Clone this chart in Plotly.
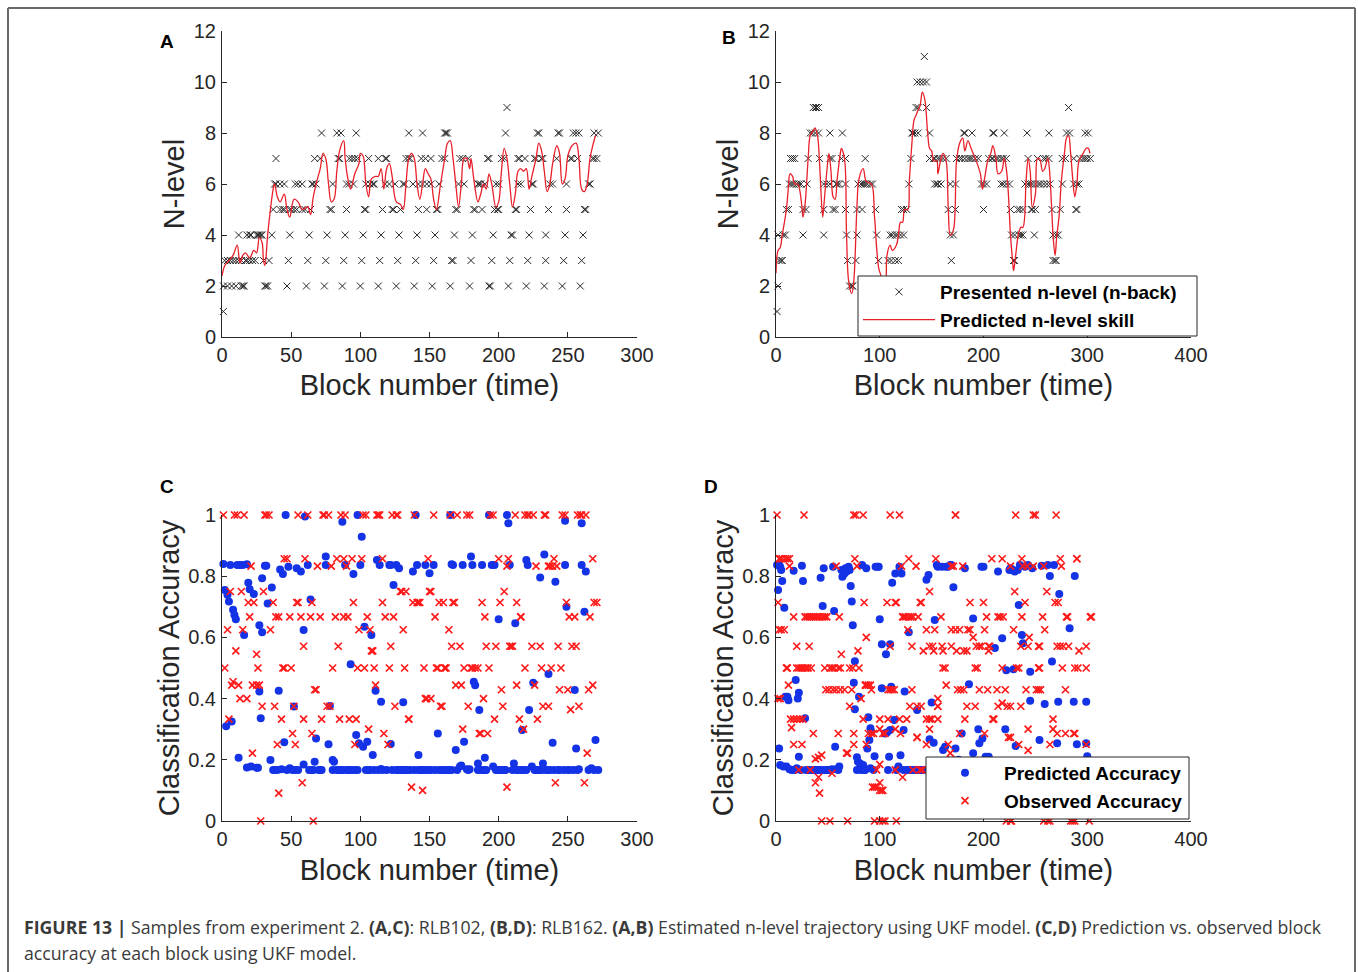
import plotly.graph_objects as go

W, H = 1358, 972
FONT = "Liberation Sans, Arial, sans-serif"
AX = "#262626"

# ---------------- Panel A (RLB102): presented n-level per block ----------------
a_level_1 = [1]
a_level_2 = [1, 4, 7, 10, 14, 15, 16, 31, 32, 33, 47, 61, 74, 87, 100, 113, 126, 139, 152, 165, 179,
             193, 194, 207, 220, 233, 246, 259]
a_level_3 = [2, 4, 6, 8, 10, 12, 14, 17, 18, 20, 22, 24, 30, 34, 48, 62, 75, 88, 101, 114, 127, 140,
             153, 166, 167, 180, 195, 208, 221, 234, 247, 260]
a_level_4 = [12, 18, 20, 21, 25, 26, 27, 28, 29, 36, 49, 63, 76, 89, 102, 115, 128, 141, 154, 168, 181,
             196, 209, 210, 222, 234, 248, 261]
a_level_5 = [37, 42, 44, 45, 49, 50, 52, 54, 58, 60, 64, 78, 79, 90, 103, 104, 116, 123, 124, 129, 142,
             148, 155, 156, 169, 170, 182, 183, 188, 197, 199, 200, 212, 213, 223, 236, 249, 262, 263]
a_level_6 = [38, 39, 42, 45, 53, 55, 58, 65, 66, 68, 80, 90, 92, 95, 104, 107, 109, 110, 118, 121, 125,
             131, 132, 138, 142, 145, 148, 151, 157, 171, 175, 185, 186, 187, 190, 198, 200, 214, 216,
             224, 225, 237, 239, 249, 265, 266]
a_level_7 = [39, 67, 71, 84, 85, 92, 94, 96, 98, 106, 113, 118, 119, 133, 135, 136, 144, 147, 151, 159,
             161, 172, 174, 178, 192, 193, 202, 204, 214, 215, 219, 226, 227, 231, 232, 242, 252, 253,
             257, 268, 269, 271]
a_level_8 = [72, 83, 86, 97, 135, 145, 161, 162, 163, 205, 228, 229, 243, 244, 254, 256, 258, 269, 272]
a_level_9 = [206]

# predicted n-level skill (UKF), panel A
a_skill_block = [0, 2, 5, 8, 11, 13, 15, 17, 20, 23, 25, 27, 29, 30, 31, 33, 35, 37, 38, 40, 42, 45, 47,
                 49, 52, 55, 58, 62, 64, 66, 69, 71, 73, 75, 77, 79, 81, 83, 85, 88, 89, 91, 93, 96, 99,
                 100, 102, 104, 106, 108, 111, 113, 115, 117, 119, 121, 123, 126, 129, 131, 133, 135,
                 137, 139, 141, 143, 145, 147, 149, 151, 153, 155, 158, 161, 163, 165, 167, 169, 171,
                 173, 175, 177, 179, 180, 182, 185, 187, 189, 191, 193, 195, 198, 200, 202, 204, 206,
                 208, 210, 212, 214, 216, 218, 220, 222, 224, 227, 229, 231, 233, 235, 237, 239, 242,
                 244, 246, 248, 250, 253, 256, 258, 260, 262, 264, 266, 268, 270]
a_skill_value = [2.4, 2.8, 3.0, 3.2, 3.6, 2.9, 3.2, 3.3, 3.1, 3.4, 3.3, 3.9, 3.7, 3.0, 2.8, 4.0, 5.0, 5.8,
                 6.0, 5.5, 5.3, 5.6, 5.0, 4.7, 5.4, 5.3, 5.0, 5.1, 4.8, 5.5, 6.2, 6.6, 7.2, 7.0, 6.0,
                 5.3, 5.4, 6.5, 7.3, 7.7, 7.0, 6.2, 5.8, 6.4, 6.8, 7.2, 7.1, 6.0, 5.5, 6.2, 6.3, 6.3,
                 6.6, 5.8, 6.6, 6.8, 6.3, 5.3, 5.2, 5.0, 6.0, 7.0, 7.2, 7.0, 6.0, 5.4, 6.0, 6.6, 6.4,
                 6.2, 5.4, 5.0, 6.0, 7.0, 7.6, 7.7, 7.0, 6.0, 5.1, 6.0, 7.0, 7.0, 6.6, 7.0, 6.2, 5.3,
                 5.6, 6.0, 5.8, 6.4, 6.0, 5.1, 5.3, 6.5, 7.4, 7.0, 6.0, 5.1, 5.6, 6.5, 6.6, 6.5, 6.6,
                 5.8, 6.3, 7.0, 7.6, 7.3, 6.5, 5.7, 6.0, 6.8, 7.5, 7.2, 6.0, 6.2, 7.1, 7.5, 7.6, 7.0,
                 5.8, 5.7, 6.0, 7.0, 7.5, 7.9]

# ---------------- Panel B (RLB162) ----------------
b_level_1 = [1]
b_level_2 = [2, 71, 73, 74]
b_level_3 = [3, 5, 6, 69, 77, 99, 108, 111, 115, 118, 169, 229, 230, 267, 269, 270]
b_level_4 = [2, 7, 9, 26, 46, 68, 78, 97, 110, 112, 115, 117, 120, 123, 168, 171, 227, 230, 234, 236,
             238, 249, 267, 270, 272]
b_level_5 = [10, 12, 26, 29, 46, 55, 57, 67, 78, 83, 96, 121, 123, 126, 166, 173, 200, 226, 233, 235,
             238, 246, 247, 250, 266, 274, 289, 290]
b_level_6 = [13, 15, 17, 20, 22, 24, 30, 46, 49, 52, 58, 59, 61, 67, 79, 82, 84, 86, 88, 91, 93, 128,
             153, 155, 156, 159, 168, 173, 198, 200, 203, 217, 219, 222, 225, 240, 243, 245, 247, 250,
             253, 255, 258, 261, 264, 276, 287, 290, 292]
b_level_7 = [14, 16, 18, 31, 42, 52, 54, 63, 67, 86, 130, 148, 152, 153, 156, 158, 161, 164, 174, 177,
             179, 182, 185, 187, 189, 192, 195, 205, 208, 209, 212, 214, 217, 219, 222, 243, 252, 258,
             260, 263, 276, 279, 287, 293, 296, 298, 300, 303]
b_level_8 = [33, 35, 38, 41, 52, 64, 131, 132, 134, 137, 148, 181, 182, 189, 209, 210, 220, 242, 263,
             280, 283, 298, 301]
b_level_9 = [36, 38, 39, 41, 135, 137, 145, 282]
b_level_10 = [136, 139, 142, 145]
b_level_11 = [143]

b_skill_block = [0, 2, 4, 6, 10, 12, 13.5, 16, 18, 21, 25, 26, 28, 31, 33, 36, 37.5, 40, 42, 45, 46, 49,
                 51, 53, 55, 57, 59, 62, 63, 66, 68, 70, 73, 75, 78, 80, 84, 87, 92, 95, 99, 102, 104,
                 106, 107, 110, 112, 116, 118, 120, 122, 124, 127, 128.5, 131, 133, 135, 137, 139, 141,
                 143.5, 146, 148, 150, 152, 155, 156, 159, 161, 164, 166, 168, 171, 174, 177, 180, 182,
                 185, 188, 190, 193, 197, 199, 201, 204, 207, 209, 212, 214, 217.5, 220, 222, 224, 226,
                 228, 229, 231, 233.5, 236, 238, 241, 243, 245, 247, 250, 252, 254, 257, 259, 262,
                 263.5, 266, 267, 269, 270.5, 273, 275, 278, 280, 282, 284, 286, 288, 290, 292, 296,
                 299, 301, 302.6]
b_skill_value = [2.5, 3.4, 3.5, 4.0, 5.0, 5.9, 6.4, 6.3, 6.0, 6.0, 5.1, 4.7, 5.2, 7.0, 7.9, 8.1, 8.2,
                 7.9, 6.8, 4.7, 5.1, 6.5, 7.2, 6.5, 5.5, 5.4, 6.2, 7.2, 7.4, 7.0, 4.0, 2.2, 1.7, 2.2,
                 5.1, 6.2, 6.6, 6.1, 6.0, 4.7, 2.7, 2.3, 1.6, 2.1, 3.2, 3.6, 3.4, 3.6, 4.0, 4.5, 4.5,
                 5.0, 5.0, 6.1, 7.6, 8.5, 8.7, 8.9, 9.1, 9.6, 9.3, 8.1, 7.4, 7.3, 6.9, 6.9, 6.4, 7.0,
                 7.2, 6.9, 5.1, 4.0, 4.2, 6.9, 7.6, 7.8, 7.3, 7.7, 7.4, 7.2, 6.9, 6.4, 5.8, 6.2, 6.9,
                 7.2, 7.5, 7.0, 6.4, 6.5, 7.0, 6.6, 5.6, 4.0, 3.0, 2.6, 3.2, 4.0, 4.3, 4.3, 6.1, 7.0,
                 6.5, 5.1, 5.6, 7.0, 7.0, 6.5, 6.6, 7.0, 6.6, 4.8, 4.0, 3.2, 3.9, 4.8, 6.1, 7.2, 7.8,
                 7.9, 7.2, 6.2, 5.5, 6.0, 6.9, 7.2, 7.4, 7.4, 7.2]

# ---------------- Panel C (RLB102): predicted / observed accuracy ----------------
c_predicted = [
    (1, .84), (2, .755), (3, .31), (4, .739), (5, .717), (6, .837), (7, .325), (8, .69), (9, .673),
    (10, .659), (11, .837), (12, .207), (13, .837), (15, .837), (16, .608), (18, .175), (18, .839),
    (19, .779), (20, .757), (21, .178), (23, .742), (25, .174), (26, .174), (27, .423), (27, .64),
    (28, .336), (29, .617), (29, .793), (31, .834), (32, .834), (33, .711), (35, .199), (36, .763),
    (37, .167), (38, .167), (40, .167), (41, .426), (42, .822), (43, .169), (44, .807), (45, .257),
    (46, 1.0), (47, .167), (48, .831), (49, .172), (51, .167), (52, .374), (53, .167), (54, .826),
    (55, .167), (57, .815), (59, .624), (59, .185), (60, .995), (62, .837), (63, .167), (64, .724),
    (65, .167), (66, .167), (67, .194), (68, .27), (70, .167), (71, .167), (72, .167), (75, .864),
    (75, .837), (77, .251), (78, .376), (80, .199), (80, .167), (81, .194), (83, .167), (84, .167),
    (86, .167), (87, .978), (87, .167), (89, .837), (90, .167), (91, .167), (92, .167), (93, .512),
    (94, .167), (95, .807), (96, .167), (97, .281), (98, .167), (98, 1.0), (99, .254), (100, .837),
    (101, .929), (102, .243), (103, .635), (104, .167), (105, .259), (106, .167), (107, .167),
    (108, .608), (109, .216), (110, .167), (111, .426), (112, .853), (113, .167), (114, .837),
    (115, .17), (115, .39), (116, .167), (119, .167), (121, .837), (122, .837), (122, .252),
    (123, .167), (124, .771), (126, .167), (126, .837), (127, .167), (128, .826), (129, .167),
    (130, .167), (131, .388), (132, .167), (133, .167), (134, .167), (136, .167), (138, .815),
    (139, .167), (140, 1.0), (141, .837), (142, .167), (142, .216), (143, .167), (144, .167),
    (145, .167), (147, .837), (147, .167), (149, .167), (150, .81), (151, .167), (153, .837),
    (154, .167), (156, .286), (157, .167), (159, .167), (161, .167), (163, .167), (164, .167),
    (165, 1.0), (166, .839), (166, .167), (167, .837), (169, .232), (170, .167), (172, .178),
    (173, .181), (174, .837), (175, .259), (177, .169), (178, .167), (179, .169), (180, .864),
    (181, .837), (182, .455), (183, .444), (185, .188), (185, .167), (186, .363), (187, .167),
    (188, .837), (189, .167), (190, .207), (190, .167), (191, .167), (193, 1.0), (195, .837),
    (196, .178), (197, .837), (198, .167), (200, .659), (200, .167), (201, .167), (202, .167),
    (204, .167), (205, .167), (206, 1.0), (207, .973), (208, .837), (210, .167), (211, .188),
    (212, .646), (213, .167), (214, .167), (216, .167), (217, .297), (218, .167), (220, .167),
    (220, .853), (221, .837), (222, .363), (224, .178), (225, .452), (226, .167), (227, .167),
    (228, .167), (229, .167), (230, .796), (231, .167), (232, .188), (233, .871), (234, .167),
    (236, .48), (236, .167), (237, .167), (239, .256), (240, .167), (241, .782), (243, .167),
    (244, .167), (247, .167), (248, .981), (248, .837), (249, .7), (250, .167), (251, .167),
    (254, .167), (255, .428), (256, .237), (257, .167), (258, .169), (260, .973), (260, .837),
    (262, .684), (263, .815), (265, .167), (267, .172), (269, .167), (270, .265), (272, .167)]

c_observed = [
    (1, 1), (2, .5), (4, .625), (5, .333), (6, .75), (7, .444), (8, .455), (9, 1), (10, .556), (11, 1),
    (12, .444), (13, .4), (14, .75), (15, .625), (16, 1), (18, .4), (19, .714), (20, .667), (21, .833),
    (22, .444), (22, .222), (23, .714), (25, .444), (25, .545), (26, .5), (27, .444), (28, 0),
    (29, .375), (30, .75), (31, 1), (32, 1), (34, 1), (35, .625), (37, .714), (38, .375), (39, .667),
    (40, .25), (41, .091), (41, .667), (43, .333), (44, .5), (45, .5), (45, .857), (47, .857),
    (49, .667), (50, .5), (51, .286), (52, .375), (53, .25), (54, .714), (55, .714), (55, 1),
    (57, .667), (58, .125), (59, .333), (59, .571), (60, .857), (62, 1), (64, .667), (65, .714),
    (65, .286), (66, 0), (67, .429), (68, .429), (69, .833), (71, .667), (72, .333), (73, 1), (74, 1),
    (76, .375), (77, 1), (78, .375), (79, .833), (80, .5), (82, .667), (83, .857), (84, .571),
    (85, .333), (86, 1), (88, .857), (88, .667), (89, 1), (90, .833), (91, .667), (92, .333),
    (94, .857), (95, .714), (96, .25), (97, .333), (98, .5), (99, .625), (101, .857), (102, 1),
    (103, .5), (104, 1), (105, .667), (106, .3), (107, .625), (108, .556), (109, .556), (110, .5),
    (111, .444), (112, 1), (113, 1), (114, 1), (116, .857), (116, .714), (117, .286), (118, .667),
    (120, .25), (121, .5), (122, .571), (123, 1), (124, .667), (125, .375), (126, 1), (127, 1),
    (129, .75), (130, .75), (131, .625), (132, .5), (133, .75), (135, .333), (135, .333),
    (137, .111), (138, .714), (139, 1), (141, .714), (142, .714), (143, .714), (145, .1), (146, .5),
    (147, .4), (148, .4), (149, .857), (150, .75), (151, .4), (151, .75), (153, 1), (154, .667),
    (155, .5), (156, .5), (157, .714), (158, .375), (159, .375), (160, .714), (161, .5), (161, .5),
    (162, .5), (164, .625), (165, 1), (166, .571), (167, .714), (168, .714), (169, .444), (170, 1),
    (172, .571), (173, .444), (174, .3), (175, .5), (177, 1), (178, .375), (179, 1), (180, .5),
    (181, .5), (183, .5), (185, .5), (186, .286), (187, .286), (188, .714), (189, .4), (190, .667),
    (191, .571), (192, .286), (193, .5), (194, 1), (196, 1), (197, .333), (198, .571), (200, .857),
    (201, .714), (202, .429), (203, .375), (204, .75), (206, .833), (206, .111), (207, .857),
    (208, .571), (209, .571), (210, .571), (212, 1), (213, .714), (213, .444), (215, .333),
    (216, .667), (216, .667), (218, .3), (219, .5), (219, 1), (221, 1), (222, 1), (224, .571),
    (225, 1), (226, .444), (227, .833), (228, .333), (230, .571), (231, .5), (232, .375), (233, 1),
    (234, 1), (236, .833), (236, .375), (237, .833), (238, .5), (239, .833), (240, .857), (241, .125),
    (242, .833), (243, .571), (244, .429), (245, .5), (246, 1), (248, 1), (249, .714), (250, .429),
    (251, .667), (252, .364), (253, .571), (255, .667), (256, .571), (257, 1), (258, .375), (259, 1),
    (260, 1), (262, .125), (263, 1), (264, .222), (265, .429), (266, .667), (268, .444), (268, .857),
    (269, .714), (271, .714)]

# ---------------- Panel D (RLB162) ----------------
d_predicted = [
    (1, .837), (2, .755), (3, .237), (3, .837), (4, .183), (4, .831), (5, .82), (6, .784), (7, .178),
    (8, .697), (9, .406), (10, .178), (11, .406), (12, .395), (13, .169), (15, .167), (17, .818),
    (18, .167), (19, .461), (20, .172), (21, .4), (22, .21), (22, .419), (24, .167), (25, .834),
    (26, .784), (28, .336), (29, .167), (31, .167), (33, .167), (36, .167), (38, .167), (40, .167),
    (42, .167), (43, .795), (44, .167), (45, .703), (46, .826), (47, .167), (49, .167), (50, .167),
    (52, .167), (54, .169), (55, .831), (56, .686), (57, .243), (58, .169), (60, .167), (61, .178),
    (63, .82), (64, .798), (66, .809), (67, .826), (68, .815), (70, .831), (71, .82), (72, .768),
    (73, .717), (74, .64), (75, .452), (76, .365), (76, .522), (78, .208), (78, .167), (79, .194),
    (80, .406), (81, .188), (82, .167), (83, .837), (84, .183), (85, .167), (86, .167), (87, .826),
    (88, .237), (89, .339), (90, .265), (91, .172), (91, .303), (92, .292), (94, .167), (95, .212),
    (96, .831), (98, .831), (99, .831), (100, .659), (102, .434), (102, .578), (105, .286),
    (106, .545), (107, .289), (108, .167), (109, .21), (110, .297), (110, .578), (111, .439),
    (112, .779), (114, .33), (115, .809), (116, .167), (118, .178), (119, .831), (120, .215),
    (121, .809), (123, .297), (123, .167), (124, .423), (126, .167), (128, .617), (129, .167),
    (131, .167), (132, .167), (134, .167), (136, .363), (137, .167), (139, .167), (140, .167),
    (142, .167), (145, .788), (147, .804), (148, .267), (150, .387), (152, .256), (153, .657),
    (155, .837), (156, .831), (160, .831), (161, .232), (163, .243), (164, .167), (164, .831),
    (166, .831), (168, .837), (169, .837), (171, .764), (173, .237), (174, .167), (176, .2),
    (177, .167), (179, .286), (181, .167), (182, .826), (184, .167), (185, .167), (186, .447),
    (188, .167), (190, .662), (190, .221), (192, .167), (193, .167), (195, .3), (196, .254),
    (198, .831), (199, .27), (200, .831), (202, .21), (204, .167), (205, .21), (207, .169),
    (209, .167), (211, .565), (213, .167), (214, .815), (216, .167), (218, .597), (219, .167),
    (221, .3), (222, .493), (224, .167), (225, .82), (226, .826), (227, .822), (228, .82),
    (229, .496), (230, .815), (231, .245), (233, .82), (234, .706), (235, .837), (237, .608),
    (238, .581), (240, .831), (242, .167), (243, .837), (245, .488), (245, .393), (247, .826),
    (248, .167), (251, .167), (253, .167), (254, .265), (256, .834), (258, .167), (259, .382),
    (261, .167), (262, .837), (264, .801), (266, .521), (267, .169), (268, .837), (271, .254),
    (272, .39), (273, .742), (275, .169), (279, .167), (280, .167), (283, .63), (285, .167),
    (287, .39), (288, .801), (290, .251), (291, .167), (293, .167), (296, .167), (299, .39),
    (299, .254), (300, .212)]

# observed accuracy, panel D: value -> blocks at that value
d_obs_1 = [1, 27, 75, 77, 84, 110, 119, 173, 173, 231, 248, 250, 270]
d_obs_857 = [3, 4, 6, 9, 11, 13, 76, 128, 154, 208, 218, 237, 274, 290, 290]
d_obs_833 = [13, 58, 78, 121, 135, 169, 171, 180, 226, 238, 242, 248, 258, 275]
d_obs_75 = [148, 230, 261]
d_obs_714 = [2, 85, 107, 115, 116, 139, 140, 187, 200, 240, 269, 272]
d_obs_667 = [17, 28, 30, 32, 34, 36, 38, 40, 42, 45, 47, 49, 61, 122, 123, 125, 128, 130, 132, 137,
             159, 203, 214, 216, 219, 237, 257, 280, 281, 303, 304]
d_obs_625 = [3, 5, 8, 127, 145, 153, 169, 173, 177, 185, 187, 201, 229, 259]
d_obs_6 = [87, 190, 244]
d_obs_571 = [20, 32, 110, 131, 148, 151, 160, 169, 193, 196, 198, 205, 206, 236, 243, 253, 254, 271,
             274, 277, 282, 299]
d_obs_556 = [79, 142, 152, 161, 174, 181, 184, 205, 292]
d_obs_5 = [10, 11, 20, 22, 24, 26, 28, 30, 31, 34, 47, 52, 54, 56, 60, 62, 71, 74, 80, 161, 163, 192,
           194, 218, 232, 234, 253, 254, 276, 288, 291, 299]
d_obs_444 = [12, 86, 87, 89, 91, 164]
d_obs_429 = [48, 51, 55, 58, 62, 66, 73, 92, 108, 110, 112, 114, 131, 175, 178, 181, 196, 204, 213,
             221, 241, 251, 253, 255, 279]
d_obs_4 = [2, 4, 82, 156]
d_obs_375 = [71, 129, 136, 140, 156, 156, 184, 192, 214, 223, 226, 236]
d_obs_333 = [14, 17, 20, 23, 26, 84, 100, 108, 119, 126, 145, 148, 150, 156, 182, 209, 210, 267]
d_obs_3 = [100, 115, 148, 243, 267]
d_obs_286 = [36, 60, 75, 89, 92, 94, 103, 105, 120, 177, 201, 271, 279, 287, 288]
d_obs_273 = [136, 136, 224, 226]
d_obs_25 = [17, 25, 75, 87, 145, 166, 234, 264, 299]
d_obs_222 = [68, 69, 168]
d_obs_2 = [169]
d_obs_167 = [22, 33, 97, 115, 132, 139, 141, 158, 181]
d_obs_143 = [41, 122]
d_obs_125 = [38, 100]
d_obs_111 = [93, 95, 97]
d_obs_1tenth = [100, 102, 103]
d_obs_0 = [44, 52, 69, 95, 100, 103, 105, 116, 222, 226, 227, 258, 262, 264, 284, 286, 288, 302]
d_obs_other = [(63, .545), (15, .305), (218, .385), (243, .231), (38, .203), (41, .208), (44, .215),
               (100, .185), (54, .156), (42, .091)]

d_obs_groups = [(1, d_obs_1), (0.857, d_obs_857), (0.833, d_obs_833), (0.75, d_obs_75),
                (0.714, d_obs_714), (0.667, d_obs_667), (0.625, d_obs_625), (0.6, d_obs_6),
                (0.571, d_obs_571), (0.556, d_obs_556), (0.5, d_obs_5), (0.444, d_obs_444),
                (0.429, d_obs_429), (0.4, d_obs_4), (0.375, d_obs_375), (0.333, d_obs_333),
                (0.3, d_obs_3), (0.286, d_obs_286), (0.273, d_obs_273), (0.25, d_obs_25),
                (0.222, d_obs_222), (0.2, d_obs_2), (0.167, d_obs_167), (0.143, d_obs_143),
                (0.125, d_obs_125), (0.111, d_obs_111), (0.1, d_obs_1tenth), (0, d_obs_0)]

# ---------------- build flat arrays ----------------
a_levels = [(1, a_level_1), (2, a_level_2), (3, a_level_3), (4, a_level_4), (5, a_level_5),
            (6, a_level_6), (7, a_level_7), (8, a_level_8), (9, a_level_9)]
b_levels = [(1, b_level_1), (2, b_level_2), (3, b_level_3), (4, b_level_4), (5, b_level_5),
            (6, b_level_6), (7, b_level_7), (8, b_level_8), (9, b_level_9), (10, b_level_10),
            (11, b_level_11)]


def flatten(groups):
    xs, ys = [], []
    for val, blocks in groups:
        for b in blocks:
            xs.append(b)
            ys.append(val)
    return xs, ys


a_px, a_py = flatten(a_levels)
b_px, b_py = flatten(b_levels)
d_ox, d_oy = flatten(d_obs_groups)
d_ox += [p[0] for p in d_obs_other]
d_oy += [p[1] for p in d_obs_other]

X_MARK = dict(symbol="x-thin", size=7, color="#2a2a2a", line=dict(width=1, color="#2a2a2a"))
RED_X = dict(symbol="x-thin", size=7, color="#ff1a1a", line=dict(width=1.7, color="#ff1a1a"))
BLUE_DOT = dict(symbol="circle", size=8, color="#1432e6")
RED_LINE = dict(color="#e8202a", width=1.3)

fig = go.Figure()
# A
fig.add_trace(go.Scatter(x=a_px, y=a_py, mode="markers", marker=X_MARK, xaxis="x", yaxis="y",
                         showlegend=False, cliponaxis=False))
fig.add_trace(go.Scatter(x=a_skill_block, y=a_skill_value, mode="lines", line=RED_LINE,
                         line_shape="spline", xaxis="x", yaxis="y", showlegend=False))
# B
fig.add_trace(go.Scatter(x=b_px, y=b_py, mode="markers", marker=X_MARK, xaxis="x2", yaxis="y2",
                         name="<b>Presented n-level (n-back)</b>", legend="legend", cliponaxis=False))
fig.add_trace(go.Scatter(x=b_skill_block, y=b_skill_value, mode="lines", line=RED_LINE,
                         line_shape="spline", xaxis="x2", yaxis="y2",
                         name="<b>Predicted n-level skill</b>", legend="legend"))
# C
fig.add_trace(go.Scatter(x=[p[0] for p in c_predicted], y=[p[1] for p in c_predicted], mode="markers",
                         marker=BLUE_DOT, xaxis="x3", yaxis="y3", showlegend=False, cliponaxis=False))
fig.add_trace(go.Scatter(x=[p[0] for p in c_observed], y=[p[1] for p in c_observed], mode="markers",
                         marker=RED_X, xaxis="x3", yaxis="y3", showlegend=False, cliponaxis=False))
# D
fig.add_trace(go.Scatter(x=[p[0] for p in d_predicted], y=[p[1] for p in d_predicted], mode="markers",
                         marker=BLUE_DOT, xaxis="x4", yaxis="y4", name="<b>Predicted Accuracy</b>",
                         legend="legend2", cliponaxis=False))
fig.add_trace(go.Scatter(x=d_ox, y=d_oy, mode="markers", marker=RED_X, xaxis="x4", yaxis="y4",
                         name="<b>Observed Accuracy</b>", legend="legend2", cliponaxis=False))

TICK = dict(family=FONT, size=20, color=AX)
TITLE = dict(family=FONT, size=29, color=AX)


def xax(x0, x1, rng, dtick, anchor, standoff):
    return dict(domain=[x0 / W, x1 / W], range=rng, dtick=dtick, tick0=0, anchor=anchor,
                showline=True, linecolor=AX, linewidth=1, ticks="inside", ticklen=5, tickcolor=AX,
                showgrid=False, zeroline=False, automargin=False,
                tickfont=TICK, ticklabelstandoff=0,
                title=dict(text="Block number (time)", font=TITLE, standoff=standoff))


def yax(y0, y1, rng, dtick, anchor, title):
    return dict(domain=[1 - y0 / H, 1 - y1 / H], range=rng, dtick=dtick, tick0=0, anchor=anchor,
                showline=True, linecolor=AX, linewidth=1, ticks="inside", ticklen=5, tickcolor=AX,
                showgrid=False, zeroline=False, automargin=False,
                tickfont=TICK, ticklabelstandoff=1,
                title=dict(text=title, font=TITLE, standoff=0))


LEG_FONT = dict(family=FONT, size=19, color="black")
layout = dict(
    width=W, height=H, margin=dict(l=0, r=0, t=0, b=0),
    paper_bgcolor="white", plot_bgcolor="rgba(0,0,0,0)",
    font=dict(family=FONT, color=AX),
    xaxis=xax(222, 637, [0, 300], 50, "y", 9),
    yaxis=yax(337, 31, [0, 12], 2, "x", "N-level"),
    xaxis2=xax(776, 1191, [0, 400], 100, "y2", 9),
    yaxis2=yax(337, 31, [0, 12], 2, "x2", "N-level"),
    xaxis3=xax(222, 637, [0, 300], 50, "y3", 10),
    yaxis3=yax(821, 515, [0, 1], 0.2, "x3", "Classification Accuracy"),
    xaxis4=xax(776, 1191, [0, 400], 100, "y4", 10),
    yaxis4=yax(821, 515, [0, 1], 0.2, "x4", "Classification Accuracy"),
    legend=dict(x=858 / W, y=1 - 273 / H, xanchor="left", yanchor="top", bgcolor="rgba(0,0,0,0)",
                borderwidth=0, itemwidth=72, font=LEG_FONT),
    legend2=dict(x=926 / W, y=1 - 754 / H, xanchor="left", yanchor="top", bgcolor="rgba(0,0,0,0)",
                 borderwidth=0, itemwidth=68, font=LEG_FONT),
)
fig.update_layout(**layout)

# legend boxes (white, bordered) drawn over the data, legends sit on top
for x0, x1, y0, y1 in [(858, 1197, 276, 336), (926, 1189, 757, 819)]:
    fig.add_shape(type="rect", xref="paper", yref="paper", x0=x0 / W, x1=x1 / W, y0=1 - y1 / H,
                  y1=1 - y0 / H, fillcolor="white", line=dict(color=AX, width=1), layer="above")

# panel letters
for letter, px, py in [("A", 167, 42), ("B", 729, 37), ("C", 167, 486), ("D", 711, 486)]:
    fig.add_annotation(x=px / W, y=1 - py / H, xref="paper", yref="paper", text=f"<b>{letter}</b>",
                       showarrow=False, xanchor="center", yanchor="middle",
                       font=dict(family=FONT, size=19, color="black"))

# caption
CAP_FONT = dict(family="Open Sans, DejaVu Sans, sans-serif", size=17.7, color="#3a3a3a")
cap1 = ("<b>FIGURE 13 |</b> Samples from experiment 2. <b>(A,C)</b>: RLB102, <b>(B,D)</b>: RLB162. "
        "<b>(A,B)</b> Estimated n-level trajectory using UKF model. <b>(C,D)</b> Prediction vs. "
        "observed block")
cap2 = "accuracy at each block using UKF model."
for txt, py in [(cap1, 927), (cap2, 953)]:
    fig.add_annotation(x=22 / W, y=1 - py / H, xref="paper", yref="paper", text=txt, showarrow=False,
                       xanchor="left", yanchor="middle", font=CAP_FONT)

# outer frame (top, left, right)
frame = dict(color="#6a6a6a", width=2)
fig.add_shape(type="line", xref="paper", yref="paper", x0=8 / W, x1=1355 / W, y0=1 - 8 / H, y1=1 - 8 / H,
              line=frame)
fig.add_shape(type="line", xref="paper", yref="paper", x0=8 / W, x1=8 / W, y0=1 - 8 / H, y1=-0.01,
              line=frame)
fig.add_shape(type="line", xref="paper", yref="paper", x0=1355 / W, x1=1355 / W, y0=1 - 8 / H, y1=-0.01,
              line=frame)

fig.write_html("out.html", config={"displayModeBar": False},
               post_script="document.body.style.margin='0';document.body.style.overflow='hidden';")
